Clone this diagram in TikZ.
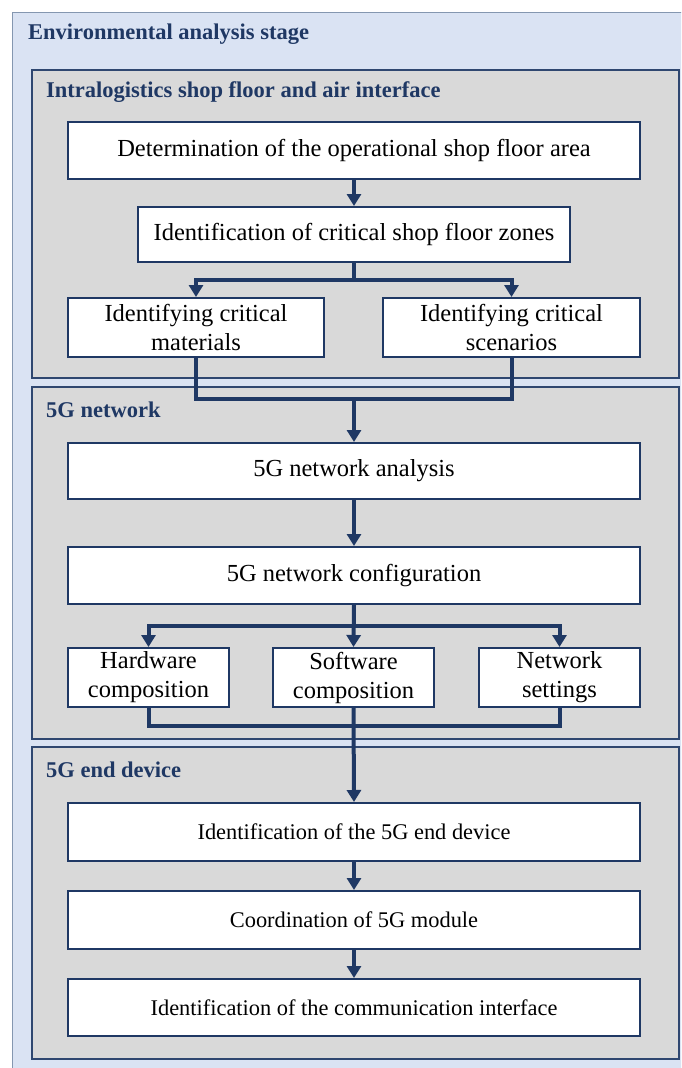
\documentclass[tikz,border=0pt]{standalone}
\usepackage{fontspec}
\setmainfont{Liberation Serif}
\usetikzlibrary{arrows.meta}

\definecolor{navy}{HTML}{1F3864}
\definecolor{stageblue}{HTML}{DAE3F3}
\definecolor{stageedge}{HTML}{8497B0}
\definecolor{panelgray}{HTML}{D9D9D9}
\definecolor{paneledge}{HTML}{2F4770}

\tikzset{
	stepbox/.style={draw=navy, line width=2pt, fill=white, inner sep=0pt,
		align=center, font=\fontsize{24.5}{29}\selectfont},
	smallstep/.style={stepbox, font=\fontsize{22.4}{27}\selectfont},
	heading/.style={anchor=west, inner sep=0pt, text=navy,
		font=\fontsize{22.5}{25}\selectfont\bfseries},
	link/.style={draw=navy, line width=4pt, -{Triangle[length=12pt,width=14pt]}},
	joint/.style={draw=navy, line width=4pt},
	panel/.style={fill=panelgray, draw=paneledge, line width=1.3pt}
}

\begin{document}
\begin{tikzpicture}[x=1pt, y=-1pt]
			%%%%% START %%%%%
			\clip (0, 0) rectangle (681, 1068);
			
			% outer stage frame, runs past the page on the right and bottom
			\draw[fill=stageblue, draw=stageedge, line width=1pt] (12, 12) rectangle (700, 1090);
			\node[heading] (stage) at (28, 34) {Environmental analysis stage};
			
			% the three panels
			\draw[panel] (32, 70) rectangle (679, 378);
			\draw[panel] (32, 387) rectangle (679, 739);
			\draw[panel] (32, 747) rectangle (679, 1059);
			
			\node[heading] (floorhead) at (46, 92) {Intralogistics shop floor and air interface};
			\node[heading] (nethead) at (46, 410) {5G network};
			\node[heading] (devhead) at (46, 770) {5G end device};
			
			% shop floor steps
			\node[stepbox, minimum width=572, minimum height=57] (area) at (354, 150.5) {Determination of the operational shop floor area};
			\node[stepbox, minimum width=432, minimum height=55] (zones) at (354, 234.5) {Identification of critical shop floor zones};
			\node[stepbox, minimum width=256, minimum height=59] (materials) at (196, 327.5) {Identifying critical\\materials};
			\node[stepbox, minimum width=257, minimum height=59] (scenarios) at (511.5, 327.5) {Identifying critical\\scenarios};
			
			% network steps
			\node[stepbox, minimum width=572, minimum height=56] (analysis) at (354, 471) {5G network analysis};
			\node[stepbox, minimum width=572, minimum height=57] (config) at (354, 575.5) {5G network configuration};
			\node[stepbox, minimum width=161, minimum height=59] (hardware) at (148.5, 677.5) {Hardware\\composition};
			\node[stepbox, minimum width=161, minimum height=59] (software) at (353.5, 677.5) {Software\\composition};
			\node[stepbox, minimum width=161, minimum height=59] (settings) at (559.5, 677.5) {Network\\settings};
			
			% end device steps
			\node[smallstep, minimum width=572, minimum height=58] (device) at (354, 832) {Identification of the 5G end device};
			\node[smallstep, minimum width=572, minimum height=58] (module) at (354, 920) {Coordination of 5G module};
			\node[smallstep, minimum width=572, minimum height=57] (interface) at (354, 1007.5) {Identification of the communication interface};
			
			% forks and joins
			\coordinate (fork1) at (354, 280);
			\coordinate (join1) at (354, 399);
			\coordinate (fork2) at (354, 626);
			\coordinate (join2) at (354, 726);
			
			\draw[link] (area) -- (zones);
			\draw[link] (zones.south) -- (fork1) -| (materials.north);
			\draw[link] (zones.south) -- (fork1) -| (scenarios.north);
			\draw[joint] (materials.south) |- (join1) -| (scenarios.south);
			\draw[link] (join1) -- (analysis.north);
			
			\draw[link] (analysis) -- (config);
			\draw[link] (config.south) -- (fork2) -| (hardware.north);
			\draw[link] (config.south) -- (software.north);
			\draw[link] (config.south) -- (fork2) -| (settings.north);
			\draw[joint] (hardware.south) |- (join2) -| (settings.south);
			\draw[link] (software.south) -- (device.north);
			
			\draw[link] (device) -- (module);
			\draw[link] (module) -- (interface);
			
			%%%%% END %%%%%
		\end{tikzpicture}
\end{document}
